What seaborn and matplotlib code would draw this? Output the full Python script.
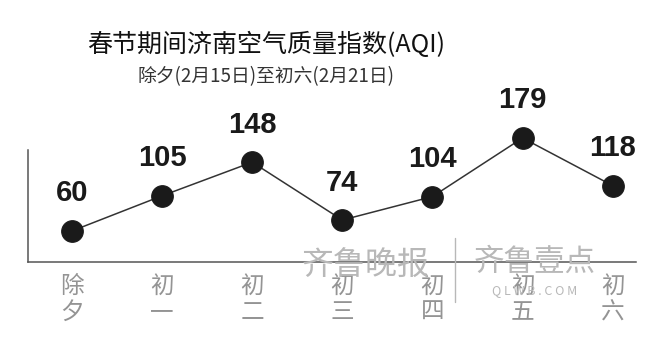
import matplotlib
matplotlib.use("Agg")
import pandas as pd
import seaborn as sns
import matplotlib.pyplot as plt

days = ["除\n夕", "初\n一", "初\n二", "初\n三", "初\n四", "初\n五", "初\n六"]
aqi = [60, 105, 148, 74, 104, 179, 118]

df = pd.DataFrame({"pos": range(len(days)), "aqi": aqi})

sns.set_theme(style="white")
plt.rcParams["font.family"] = ["Noto Sans CJK SC", "DejaVu Sans"]

fig = plt.figure(figsize=(6.5, 3.52), dpi=100)
ax = fig.add_axes([0.043, 0.2557, 0.935, 0.4744])

sns.lineplot(data=df, x="pos", y="aqi", ax=ax, color="#333333", linewidth=1.1,
             marker="o", markersize=15.6, markerfacecolor="#1a1a1a",
             markeredgecolor="#1a1a1a", zorder=3)

# value labels above the dots
for x, v in zip(df["pos"], df["aqi"]):
    ax.annotate(str(v), (x, v), xytext=(0, 27), textcoords="offset points",
                ha="center", va="center", fontsize=21, fontweight="bold",
                family=["Liberation Sans", "DejaVu Sans"], color="#1a1a1a")

ax.set_xlim(-0.488, 6.255)
ax.set_ylim(20.3, 234)
ax.set_xticks(range(len(days)), days)
ax.set_yticks([])
ax.set_xlabel("")
ax.set_ylabel("")
ax.tick_params(axis="x", length=0, pad=9, labelsize=17, labelcolor="#949494")
for lbl in ax.get_xticklabels():
    lbl.set_linespacing(1.2)

for side in ["top", "right"]:
    ax.spines[side].set_visible(False)
for side in ["left", "bottom"]:
    ax.spines[side].set_color("#555555")
    ax.spines[side].set_linewidth(1.1)
ax.spines["left"].set_bounds(20.3, 163.7)

# watermark
fig.text(0.563, 0.245, "齐鲁晚报", fontsize=23, color="#b8b8b8", ha="center", va="center", zorder=0)
fig.add_artist(plt.Line2D([0.70, 0.70], [0.142, 0.324], color="#b8b8b8", linewidth=1))
fig.text(0.823, 0.256, "齐鲁壹点", fontsize=22, color="#b8b8b8", ha="center", va="center", zorder=0)
fig.text(0.823, 0.176, "Q L W B . C O M", fontsize=9, color="#b8b8b8", ha="center", va="center", zorder=0)

fig.text(0.409, 0.872, "春节期间济南空气质量指数(AQI)", ha="center", va="center",
         fontsize=18, color="#111111")
fig.text(0.409, 0.781, "除夕(2月15日)至初六(2月21日)", ha="center", va="center",
         fontsize=13.5, color="#333333")

plt.savefig("out.png", dpi=100)
